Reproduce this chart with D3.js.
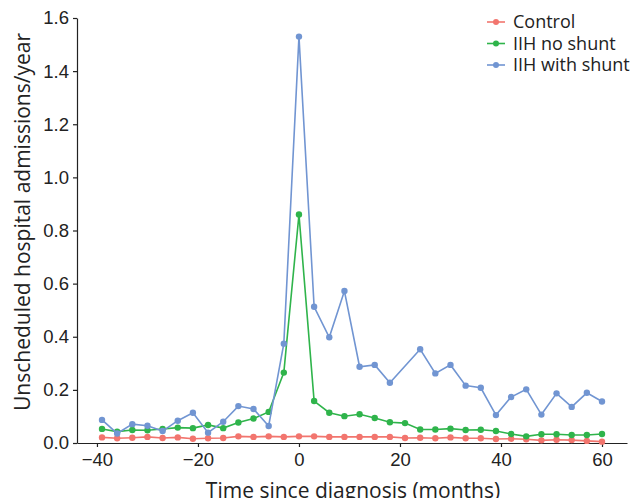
<!DOCTYPE html>
<html>
<head>
<meta charset="utf-8">
<script src="https://cdn.jsdelivr.net/npm/d3@7"></script>
<style>
  body { margin: 0; background: #fff; }
  svg { font-family: "Open Sans", "Noto Sans", sans-serif; }
  .axis text { font-size: 18.5px; fill: #222; }
  .axis path, .axis line { stroke: #222; stroke-width: 1.2; }
</style>
</head>
<body>
<svg id="chart" width="633" height="498"></svg>
<script>
// months relative to diagnosis
const months = [-39, -36, -33, -30, -27, -24, -21, -18, -15, -12, -9, -6, -3,
  0, 3, 6, 9, 12, 15, 18, 21, 24, 27, 30, 33, 36, 39, 42, 45, 48, 51, 54, 57, 60];

const control = [0.021, 0.018, 0.020, 0.023, 0.019, 0.021, 0.016, 0.018, 0.019, 0.025, 0.023, 0.025, 0.023,
  0.025, 0.025, 0.023, 0.023, 0.023, 0.023, 0.023, 0.019, 0.020, 0.018, 0.021, 0.018, 0.018, 0.015,
  0.016, 0.014, 0.010, 0.012, 0.011, 0.008, 0.005];

const noShunt = [0.053, 0.043, 0.049, 0.048, 0.053, 0.058, 0.056, 0.068, 0.056, 0.077, 0.092, 0.117, 0.265,
  0.860, 0.158, 0.114, 0.101, 0.108, 0.094, 0.078, 0.075, 0.051, 0.051, 0.054, 0.049, 0.050, 0.045,
  0.034, 0.025, 0.033, 0.033, 0.030, 0.030, 0.034];

// blue series has no value at month 21
const withShunt = [0.087, 0.036, 0.071, 0.065, 0.045, 0.084, 0.114, 0.039, 0.080, 0.139, 0.128, 0.064, 0.374,
  1.530, 0.513, 0.398, 0.572, 0.287, 0.294, 0.227, null, 0.353, 0.262, 0.294, 0.216, 0.208, 0.105,
  0.173, 0.202, 0.107, 0.187, 0.136, 0.189, 0.156];

const seriesNames = ["Control", "IIH no shunt", "IIH with shunt"];
const seriesColors = ["#f2756e", "#2fb44b", "#7195d2"];
const xTicks = [-40, -20, 0, 20, 40, 60];
const yTicks = [0, 0.2, 0.4, 0.6, 0.8, 1.0, 1.2, 1.4, 1.6];

const svg = d3.select("#chart");
const margin = { left: 77, right: 6, top: 18, bottom: 55 };
const width = 633, height = 498;

const x = d3.scaleLinear()
  .domain([-43.95, 64.95])
  .range([margin.left, width - margin.right]);

const y = d3.scaleLinear()
  .domain([0, 1.6])
  .range([height - margin.bottom, margin.top]);

// x axis
svg.append("g")
  .attr("class", "axis")
  .attr("transform", "translate(0," + (height - margin.bottom) + ")")
  .call(d3.axisBottom(x).tickValues(xTicks).tickSize(4).tickSizeOuter(0)
    .tickFormat(d => d < 0 ? "\u2212" + Math.abs(d) : d))
  .selectAll("text").attr("dy", "0.85em");

// y axis
svg.append("g")
  .attr("class", "axis")
  .attr("transform", "translate(" + margin.left + ",0)")
  .call(d3.axisLeft(y).tickValues(yTicks).tickSize(4).tickPadding(4).tickSizeOuter(0)
    .tickFormat(d3.format(".1f")));

// axis labels
svg.append("text")
  .attr("x", (margin.left + width - margin.right) / 2 + 1)
  .attr("y", 498)
  .attr("text-anchor", "middle")
  .style("font-size", "21px")
  .style("fill", "#222")
  .text("Time since diagnosis (months)");

svg.append("text")
  .attr("transform", "translate(30," + 222 + ") rotate(-90)")
  .attr("text-anchor", "middle")
  .style("font-size", "21px")
  .style("fill", "#222")
  .text("Unscheduled hospital admissions/year");

const allSeries = [control, noShunt, withShunt];

const line = d3.line()
  .x(d => x(d.m))
  .y(d => y(d.v));

allSeries.forEach(function (vals, i) {
  // blue line skips the missing month (joins neighbours)
  const pts = months.map((m, j) => ({ m: m, v: vals[j] })).filter(d => d.v !== null);
  const g = svg.append("g");
  g.append("path")
    .datum(pts)
    .attr("d", line)
    .attr("fill", "none")
    .attr("stroke", seriesColors[i])
    .attr("stroke-width", 1.6);
  g.selectAll("circle")
    .data(pts)
    .enter()
    .append("circle")
    .attr("cx", d => x(d.m))
    .attr("cy", d => y(d.v))
    .attr("r", 3.2)
    .attr("fill", seriesColors[i]);
});

// legend
const legend = svg.append("g").attr("transform", "translate(487,22)");
seriesNames.forEach(function (name, i) {
  const row = legend.append("g").attr("transform", "translate(0," + i * 21.5 + ")");
  row.append("line")
    .attr("x1", 0).attr("x2", 18)
    .attr("stroke", seriesColors[i])
    .attr("stroke-width", 1.6);
  row.append("circle")
    .attr("cx", 9).attr("r", 3)
    .attr("fill", seriesColors[i]);
  row.append("text")
    .attr("x", 26)
    .attr("dy", "0.35em")
    .style("font-size", "18px")
    .style("fill", "#222")
    .text(name);
});
</script>
</body>
</html>
